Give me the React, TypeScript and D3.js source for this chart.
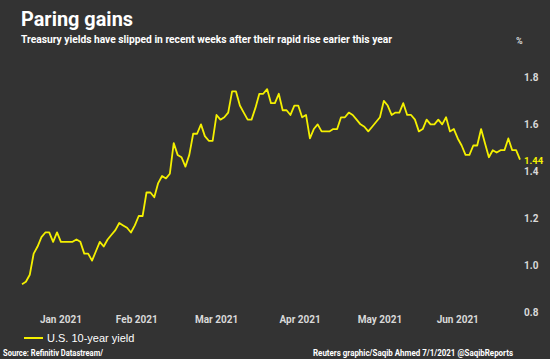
import { useEffect, useRef } from 'react';
import * as d3 from 'd3';

// US 10-year Treasury yield, one point per weekday, Dec 31 2020 - Jun 30 2021 (%)
const yields: number[] = [
  0.91, 0.92, 0.95, 1.04, 1.07, 1.11, 1.13, 1.13, 1.09, 1.13,
  1.09, 1.09, 1.09, 1.09, 1.1, 1.09, 1.04, 1.04, 1.01, 1.05,
  1.09, 1.07, 1.1, 1.12, 1.14, 1.17, 1.16, 1.15, 1.13, 1.16,
  1.2, 1.2, 1.3, 1.3, 1.28, 1.34, 1.37, 1.36, 1.38, 1.51,
  1.46, 1.45, 1.41, 1.46, 1.55, 1.55, 1.59, 1.54, 1.52, 1.52,
  1.63, 1.61, 1.62, 1.64, 1.73, 1.73, 1.67, 1.64, 1.61, 1.61,
  1.66, 1.72, 1.72, 1.74, 1.68, 1.68, 1.72, 1.65, 1.65, 1.63,
  1.67, 1.67, 1.62, 1.63, 1.53, 1.57, 1.59, 1.56, 1.56, 1.56,
  1.57, 1.57, 1.62, 1.62, 1.64, 1.63, 1.61, 1.59, 1.58, 1.56,
  1.58, 1.6, 1.62, 1.69, 1.67, 1.63, 1.64, 1.64, 1.68, 1.63,
  1.63, 1.61, 1.56, 1.57, 1.61, 1.59, 1.59, 1.61, 1.59, 1.62,
  1.56, 1.57, 1.53, 1.5, 1.46, 1.46, 1.5, 1.5, 1.57, 1.51,
  1.45, 1.48, 1.47, 1.48, 1.48, 1.53, 1.48, 1.48, 1.44,
];

// month labels sit near the middle of each month (weekday index)
const monthLabels = ['Jan 2021', 'Feb 2021', 'Mar 2021', 'Apr 2021', 'May 2021', 'Jun 2021'];
const monthIdx = [10, 29.5, 50, 71.5, 92, 112];

const yTicks = [0.8, 1.0, 1.2, 1.4, 1.6, 1.8];

const BG = '#333333';
const YELLOW = '#f4f000';
const GREY = '#d9d9d9';

export default function App() {
  const svgRef = useRef<SVGSVGElement>(null);

  useEffect(() => {
    if (!svgRef.current) return;
    document.body.style.margin = '0';

    const width = 550;
    const height = 359;
    const svg = d3.select(svgRef.current);
    svg.selectAll('*').remove();
    svg.attr('width', width).attr('height', height);

    svg.append('rect').attr('width', width).attr('height', height).attr('fill', BG);

    const x = d3.scaleLinear().domain([0, yields.length - 1]).range([22, 520]);
    const y = d3.scaleLinear().domain([1.0, 1.8]).range([263, 75]);

    // title block
    svg
      .append('text')
      .attr('x', 21)
      .attr('y', 26)
      .attr('fill', '#ffffff')
      .attr('font-family', 'Roboto, Arial, sans-serif')
      .attr('font-weight', 'bold')
      .attr('font-size', 21)
      .attr('textLength', 112)
      .attr('lengthAdjust', 'spacingAndGlyphs')
      .text('Paring gains');

    svg
      .append('text')
      .attr('x', 21)
      .attr('y', 43)
      .attr('fill', '#ffffff')
      .attr('font-family', 'Roboto, Arial, sans-serif')
      .attr('font-weight', 'bold')
      .attr('font-size', 11)
      .attr('textLength', 371)
      .attr('lengthAdjust', 'spacingAndGlyphs')
      .text('Treasury yields have slipped in recent weeks after their rapid rise earier this year');

    svg
      .append('text')
      .attr('x', 516)
      .attr('y', 44)
      .attr('fill', GREY)
      .attr('font-family', 'Roboto, Arial, sans-serif')
      .attr('font-weight', 'bold')
      .attr('font-size', 9)
      .text('%');

    // y axis labels on the right
    svg
      .append('g')
      .selectAll('text')
      .data(yTicks)
      .enter()
      .append('text')
      .attr('x', 524)
      .attr('y', (d) => y(d) + 2)
      .attr('dy', '0.35em')
      .attr('fill', GREY)
      .attr('font-family', 'Roboto, Arial, sans-serif')
      .attr('font-weight', 'bold')
      .attr('font-size', 10)
      .text((d) => d.toFixed(1));

    // x axis month labels
    svg
      .append('g')
      .selectAll('text')
      .data(monthLabels)
      .enter()
      .append('text')
      .attr('x', (_d, i) => x(monthIdx[i]))
      .attr('y', 319)
      .attr('dy', '0.35em')
      .attr('text-anchor', 'middle')
      .attr('fill', GREY)
      .attr('font-family', 'Roboto, Arial, sans-serif')
      .attr('font-weight', 'bold')
      .attr('font-size', 10)
      .text((d) => d);

    const line = d3
      .line<number>()
      .x((_d, i) => x(i))
      .y((d) => y(d));

    svg
      .append('path')
      .datum(yields)
      .attr('fill', 'none')
      .attr('stroke', YELLOW)
      .attr('stroke-width', 1.8)
      .attr('stroke-linejoin', 'round')
      .attr('d', line);

    // last value label
    const last = yields[yields.length - 1];
    svg
      .append('text')
      .attr('x', 524)
      .attr('y', y(last) + 1)
      .attr('dy', '0.35em')
      .attr('fill', YELLOW)
      .attr('font-family', 'Roboto, Arial, sans-serif')
      .attr('font-weight', 'bold')
      .attr('font-size', 9.5)
      .text(last.toFixed(2));

    // legend
    svg
      .append('line')
      .attr('x1', 24)
      .attr('x2', 43)
      .attr('y1', 338)
      .attr('y2', 338)
      .attr('stroke', YELLOW)
      .attr('stroke-width', 2);

    svg
      .append('text')
      .attr('x', 47)
      .attr('y', 338)
      .attr('dy', '0.35em')
      .attr('fill', '#ffffff')
      .attr('font-family', 'Arial, Liberation Sans, sans-serif')
      .attr('font-size', 11)
      .text('U.S. 10-year yield');

    // footer
    svg
      .append('text')
      .attr('x', 3)
      .attr('y', 353)
      .attr('dy', '0.35em')
      .attr('fill', '#ffffff')
      .attr('font-family', 'Roboto, Arial, sans-serif')
      .attr('font-weight', 'bold')
      .attr('font-size', 9)
      .attr('textLength', 100)
      .attr('lengthAdjust', 'spacingAndGlyphs')
      .text('Source: Refinitiv Datastream/');

    svg
      .append('text')
      .attr('x', 313)
      .attr('y', 353)
      .attr('dy', '0.35em')
      .attr('fill', '#ffffff')
      .attr('font-family', 'Roboto, Arial, sans-serif')
      .attr('font-weight', 'bold')
      .attr('font-size', 9)
      .attr('textLength', 200)
      .attr('lengthAdjust', 'spacingAndGlyphs')
      .text('Reuters graphic/Saqib Ahmed 7/1/2021 @SaqibReports');
  }, []);

  return (
    <div style={{ position: 'absolute', left: 0, top: 0 }}>
      <svg ref={svgRef} style={{ display: 'block' }} />
    </div>
  );
}
